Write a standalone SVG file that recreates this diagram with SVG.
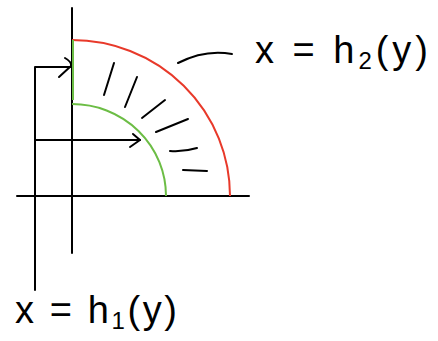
<svg xmlns="http://www.w3.org/2000/svg" width="438" height="341" viewBox="0 0 438 341">
<style>
.ink{fill:none;stroke:#000;stroke-width:2;stroke-linecap:round;stroke-linejoin:round}
.red{fill:none;stroke:#e8392a;stroke-width:2}
.green{fill:none;stroke:#6cbd45;stroke-width:2}
.lbl{font-family:"Liberation Sans",Arial,sans-serif;font-size:38px;fill:#000}
.sub{font-size:24px}
</style>
<rect width="438" height="341" fill="#fff"/>
<g id="axes">
<line class="ink" x1="72" y1="8" x2="72" y2="253"/>
<line class="ink" x1="17" y1="196" x2="249" y2="196"/>
</g>
<g id="outer-curve">
<path class="red" d="M72,40 A158,156 0 0 1 230,196"/>
</g>
<g id="inner-curve">
<line class="green" x1="73" y1="40" x2="73" y2="100"/>
<path class="green" d="M72,104 A94,92 0 0 1 166,196"/>
</g>
<g id="region-hatch">
<path class="ink" d="M114,63 L104,95 M137,77 L125,107 M165,100 L142,118 M188,119 L156,132 M197,148 Q184,152 170,151 M207,171 L183,170"/>
</g>
<g id="connectors">
<path class="ink" d="M35,290 L35,67 L71,67"/>
<path class="ink" d="M65,58 Q72,62 71,66 L59,77"/>
<path class="ink" d="M35,140 L140,140"/>
<path class="ink" d="M133,134 L140,140 L130,147"/>
<path class="ink" d="M178,63 Q205,49 232,54"/>
</g>
<g id="label-h2">
<text class="lbl" x="255" y="63" textLength="173" lengthAdjust="spacing">x = h<tspan class="sub" dy="6">2</tspan><tspan dy="-6">(y)</tspan></text>
</g>
<g id="label-h1">
<text class="lbl" x="15" y="323" textLength="162" lengthAdjust="spacing">x = h<tspan class="sub" dy="6">1</tspan><tspan dy="-6">(y)</tspan></text>
</g>
</svg>
